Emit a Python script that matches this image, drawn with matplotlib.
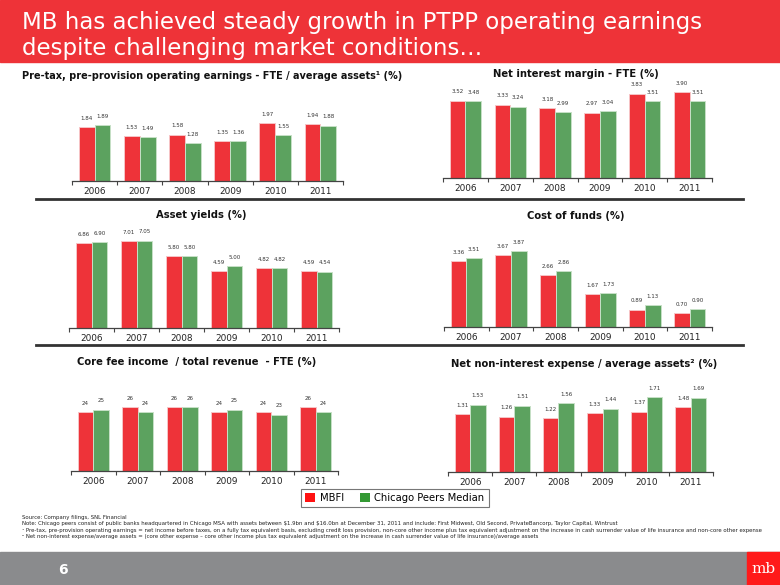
import numpy as np
import matplotlib
matplotlib.use("Agg")
import matplotlib.pyplot as plt
from matplotlib.patches import Rectangle, Patch

W, H = 780, 585

years = ["2006", "2007", "2008", "2009", "2010", "2011"]

ptpp_mbfi = [1.84, 1.53, 1.58, 1.35, 1.97, 1.94]
ptpp_peer = [1.89, 1.49, 1.28, 1.36, 1.55, 1.88]

nim_mbfi = [3.52, 3.33, 3.18, 2.97, 3.83, 3.90]
nim_peer = [3.48, 3.24, 2.99, 3.04, 3.51, 3.51]

ay_mbfi = [6.86, 7.01, 5.80, 4.59, 4.82, 4.59]
ay_peer = [6.90, 7.05, 5.80, 5.00, 4.82, 4.54]

cof_mbfi = [3.36, 3.67, 2.66, 1.67, 0.89, 0.70]
cof_peer = [3.51, 3.87, 2.86, 1.73, 1.13, 0.90]

fee_mbfi = [24, 26, 26, 24, 24, 26]
fee_peer = [25, 24, 26, 25, 23, 24]

nie_mbfi = [1.31, 1.26, 1.22, 1.33, 1.37, 1.48]
nie_peer = [1.53, 1.51, 1.56, 1.44, 1.71, 1.69]

RED = "#ee3339"
GREEN = "#5ca25f"
HEAD_RED = "#ee3338"

fig = plt.figure(figsize=(W / 100, H / 100), dpi=100)


def px_axes(x0, x1, y_top, y_base):
    return fig.add_axes([x0 / W, 1 - y_base / H, (x1 - x0) / W, (y_base - y_top) / H])


def panel(x0, x1, base, top, scale, mbfi, peer, fmt):
    ax = px_axes(x0, x1, top, base)
    x = np.arange(len(years))
    w = 0.35
    ax.bar(x - w / 2, mbfi, w, color=RED, edgecolor="#f7c4c6", linewidth=0.7)
    ax.bar(x + w / 2, peer, w, color=GREEN, edgecolor="#c6e0c6", linewidth=0.7)
    for xi, v in zip(x - w / 2, mbfi):
        ax.annotate(fmt.format(v), (xi, v), xytext=(0, 4.5), textcoords="offset points",
                    ha="center", va="bottom", fontsize=4.0, color="#333333")
    for xi, v in zip(x + w / 2, peer):
        ax.annotate(fmt.format(v), (xi, v), xytext=(0, 4.5), textcoords="offset points",
                    ha="center", va="bottom", fontsize=4.0, color="#333333")
    ax.set_xlim(-0.5, 5.5)
    ax.set_ylim(0, (base - top) / scale)
    ax.set_xticks(x)
    ax.set_xticklabels(years, fontsize=6.4, color="#222222")
    ax.set_xticks(np.arange(-0.5, 6, 1), minor=True)
    ax.tick_params(axis="x", which="major", length=0, pad=4.5)
    ax.tick_params(axis="x", which="minor", length=3, width=0.8, color="#444444")
    ax.set_yticks([])
    for s in ["top", "left", "right"]:
        ax.spines[s].set_visible(False)
    ax.spines["bottom"].set_color("#444444")
    ax.spines["bottom"].set_linewidth(0.9)
    ax.patch.set_alpha(0)
    return ax


panel(72, 343, 181, 105, 29.4, ptpp_mbfi, ptpp_peer, "{:.2f}")
panel(443, 712, 178, 84, 22.0, nim_mbfi, nim_peer, "{:.2f}")
panel(69, 339, 328, 228, 12.4, ay_mbfi, ay_peer, "{:.2f}")
panel(444, 712, 327, 235, 19.6, cof_mbfi, cof_peer, "{:.2f}")
panel(71, 338, 471, 385, 2.45, fee_mbfi, fee_peer, "{:d}")
panel(448, 713, 472, 380, 44.0, nie_mbfi, nie_peer, "{:.2f}")

# header and footer
fig.patches.append(Rectangle((0, 1 - 62 / H), 1, 62 / H, transform=fig.transFigure,
                             color=HEAD_RED, zorder=0))
fig.text(22 / W, 1 - 23 / H, "MB has achieved steady growth in PTPP operating earnings",
         color="white", fontsize=16.5, va="center", ha="left")
fig.text(22 / W, 1 - 48 / H, "despite challenging market conditions…",
         color="white", fontsize=16.5, va="center", ha="left")

fig.patches.append(Rectangle((0, 0), 1, 33 / H, transform=fig.transFigure,
                             color="#8a8b8d", zorder=0))
fig.patches.append(Rectangle((747 / W, 0), 33 / W, 33 / H, transform=fig.transFigure,
                             color="#ff1a1a", zorder=1))
fig.text(764 / W, 1 - 569 / H, "mb", color="white", fontsize=11, family="DejaVu Serif",
         ha="center", va="center")
fig.text(63 / W, 1 - 570 / H, "6", color="white", fontsize=10, fontweight="bold",
         ha="center", va="center")

# separators
for y in (199, 345):
    fig.add_artist(plt.Line2D([36 / W, 743 / W], [1 - y / H, 1 - y / H],
                              color="#333333", linewidth=2, transform=fig.transFigure))

# panel titles
tkw = dict(fontweight="bold", color="#111111", va="center")
fig.text(22 / W, 1 - 76 / H, "Pre-tax, pre-provision operating earnings - FTE / average assets¹ (%)",
         ha="left", fontsize=7.0, **tkw)
fig.text(576 / W, 1 - 74 / H, "Net interest margin - FTE (%)", ha="center", fontsize=7.2, **tkw)
fig.text(201 / W, 1 - 215 / H, "Asset yields (%)", ha="center", fontsize=7.2, **tkw)
fig.text(576 / W, 1 - 216 / H, "Cost of funds (%)", ha="center", fontsize=7.2, **tkw)
fig.text(197 / W, 1 - 362 / H, "Core fee income  / total revenue  - FTE (%)", ha="center",
         fontsize=7.2, **tkw)
fig.text(584 / W, 1 - 364 / H, "Net non-interest expense / average assets² (%)", ha="center",
         fontsize=7.2, **tkw)

# legend
handles = [Patch(facecolor="#ff1111", label="MBFI"),
           Patch(facecolor="#339933", label="Chicago Peers Median")]
leg = fig.legend(handles=handles, loc="center", bbox_to_anchor=(395 / W, 1 - 498 / H),
                 ncol=2, fontsize=7.2, frameon=True, fancybox=False, handlelength=1.0,
                 handleheight=1.0, handletextpad=0.5, columnspacing=1.5,
                 borderpad=0.4, edgecolor="#555555")
leg.get_frame().set_linewidth(0.8)

# footnotes
notes = [
    "Source: Company filings, SNL Financial",
    "Note: Chicago peers consist of public banks headquartered in Chicago MSA with assets between $1.9bn and $16.0bn at December 31, 2011 and include: First Midwest, Old Second, PrivateBancorp, Taylor Capital, Wintrust",
    "¹ Pre-tax, pre-provision operating earnings = net income before taxes, on a fully tax equivalent basis, excluding credit loss provision, non-core other income plus tax equivalent adjustment on the increase in cash surrender value of life insurance and non-core other expense",
    "² Net non-interest expense/average assets = (core other expense – core other income plus tax equivalent adjustment on the increase in cash surrender value of life insurance)/average assets",
]
for i, t in enumerate(notes):
    fig.text(22 / W, 1 - (517 + i * 6.6) / H, t, fontsize=3.9, color="#222222",
             ha="left", va="center", parse_math=False)

fig.savefig("out.png", dpi=100)
